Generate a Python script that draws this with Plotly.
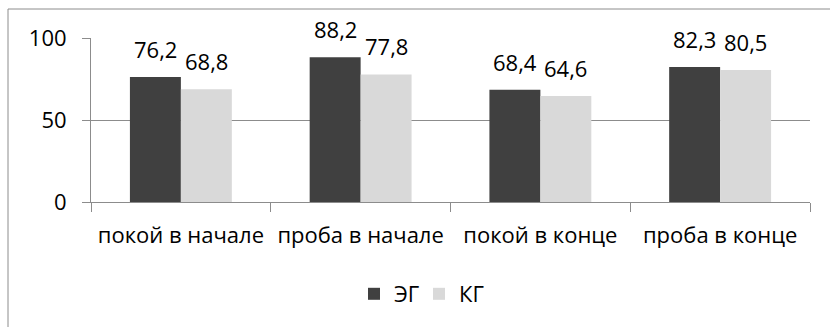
import plotly.graph_objects as go

categories = ["покой в начале", "проба в начале", "покой в конце", "проба в конце"]
eg_values = [76.2, 88.2, 68.4, 82.3]
kg_values = [68.8, 77.8, 64.6, 80.5]
series_names = ["ЭГ", "КГ"]
y_ticks = [0, 50, 100]

DARK = "#404040"
LIGHT = "#d9d9d9"
GRID = "#8c8c8c"
FONT = "Open Sans"
FS = 22

W, H = 830, 327
L, R, T, B = 91, 20, 38, 125

BARGAP = 0.433
bar_w = (1 - BARGAP) / 2


def fmt(v):
    return f"{v:.1f}".replace(".", ",")


fig = go.Figure()
fig.add_trace(go.Bar(x=categories, y=eg_values, name=series_names[0],
                     marker=dict(color=DARK, line=dict(width=0))))
fig.add_trace(go.Bar(x=categories, y=kg_values, name=series_names[1],
                     marker=dict(color=LIGHT, line=dict(width=0))))

# value labels above each bar
annotations = []
for i, (a, b) in enumerate(zip(eg_values, kg_values)):
    for off, v in ((-bar_w / 2, a), (bar_w / 2, b)):
        annotations.append(dict(
            x=i + off, y=v, xref="x", yref="y", text=fmt(v),
            showarrow=False, yanchor="bottom", xanchor="center", yshift=11,
            font=dict(family=FONT, size=FS, color="black"),
        ))

pw = W - L - R
ph = H - T - B
# outer chart frame
shapes = [dict(
    type="rect", xref="paper", yref="paper",
    x0=(8 - L) / pw, x1=(W + 20 - L) / pw,
    y0=(H - B - (H + 20)) / ph, y1=(H - B - 9) / ph,
    line=dict(color="#8c8c8c", width=1), fillcolor="rgba(0,0,0,0)", layer="below",
)]

fig.update_layout(
    width=W, height=H,
    margin=dict(l=L, r=R, t=T, b=B, pad=0, autoexpand=False),
    paper_bgcolor="white", plot_bgcolor="white",
    barmode="group", bargap=BARGAP, bargroupgap=0,
    font=dict(family=FONT, size=FS, color="black"),
    showlegend=True,
    legend=dict(orientation="h", x=(419 - L) / pw, xanchor="center",
                y=(H - B - 294) / ph, yanchor="middle",
                font=dict(family=FONT, size=FS), itemwidth=30,
                entrywidth=20, entrywidthmode="pixels",
                bgcolor="rgba(0,0,0,0)"),
    annotations=annotations,
    shapes=shapes,
)
fig.update_xaxes(
    type="category", showline=True, linecolor=GRID, linewidth=1,
    ticks="outside", ticklen=9, tickcolor=GRID, tickson="boundaries",
    showgrid=False, tickfont=dict(family=FONT, size=FS), tickangle=0,
    automargin=False, ticklabelstandoff=14,
)
fig.update_yaxes(
    range=[0, 100], tickvals=y_ticks, showline=True, linecolor=GRID, linewidth=1,
    ticks="outside", ticklen=8, tickcolor=GRID, showgrid=True, gridcolor=GRID,
    gridwidth=1, zeroline=False, tickfont=dict(family=FONT, size=FS),
    ticklabelstandoff=11, automargin=False,
)

fig.write_html("out.html")
